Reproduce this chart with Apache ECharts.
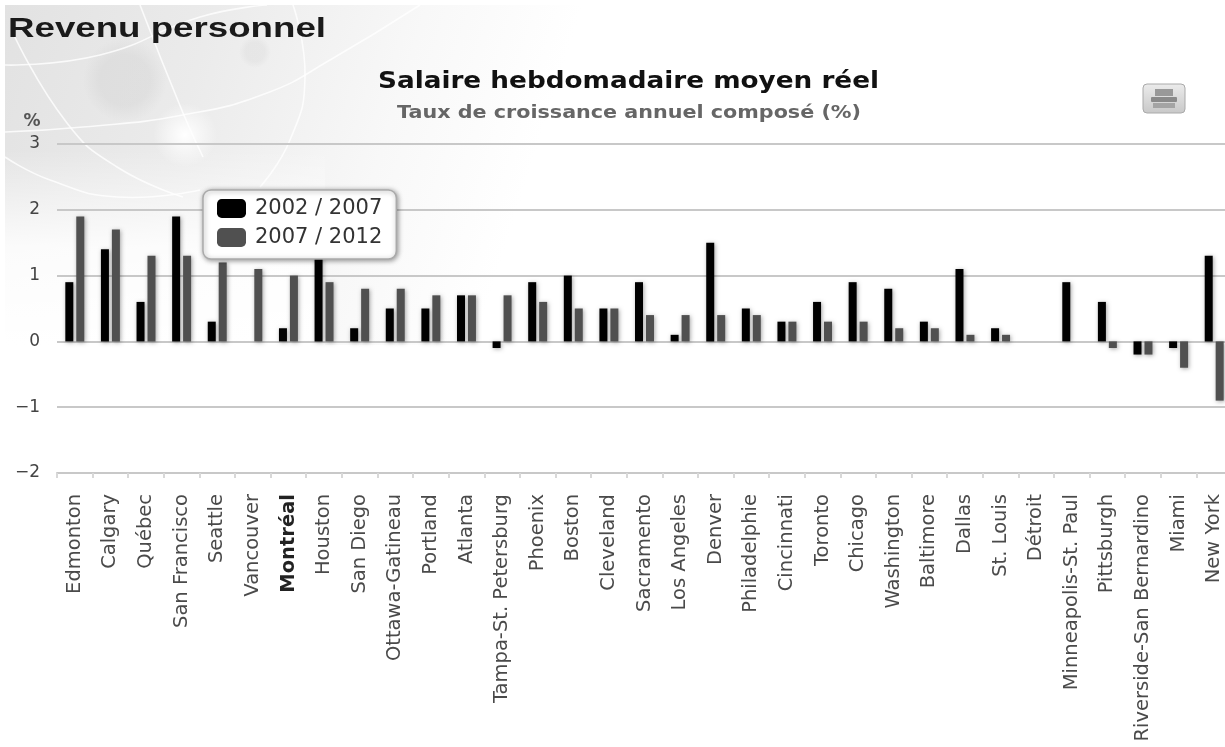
<!DOCTYPE html>
<html><head><meta charset="utf-8">
<style>html,body{margin:0;padding:0;background:#fff}#c{width:1225px;height:747px}</style>
<script src="https://cdn.jsdelivr.net/npm/echarts@6/dist/echarts.min.js"></script>
</head><body><div id="c"></div>
<script>
const categories=["Edmonton","Calgary","Québec","San Francisco","Seattle","Vancouver","Montréal","Houston","San Diego","Ottawa-Gatineau","Portland","Atlanta","Tampa-St. Petersburg","Phoenix","Boston","Cleveland","Sacramento","Los Angeles","Denver","Philadelphie","Cincinnati","Toronto","Chicago","Washington","Baltimore","Dallas","St. Louis","Détroit","Minneapolis-St. Paul","Pittsburgh","Riverside-San Bernardino","Miami","New York"];
const period1=[0.9,1.4,0.6,1.9,0.3,null,0.2,1.3,0.2,0.5,0.5,0.7,-0.1,0.9,1.0,0.5,0.9,0.1,1.5,0.5,0.3,0.6,0.9,0.8,0.3,1.1,0.2,null,0.9,0.6,-0.2,-0.1,1.3];
const period2=[1.9,1.7,1.3,1.3,1.2,1.1,1.0,0.9,0.8,0.8,0.7,0.7,0.7,0.6,0.5,0.5,0.4,0.4,0.4,0.4,0.3,0.3,0.3,0.2,0.2,0.1,0.1,null,0,-0.1,-0.2,-0.4,-0.9];
const seriesNames=["2002 / 2007","2007 / 2012"];
const highlighted="Montréal";
const FONT='"DejaVu Sans"';
const chart=echarts.init(document.getElementById('c'),null,{renderer:'canvas'});
const line=(points)=>({type:'polyline',silent:true,z:-9,shape:{points,smooth:0.5},style:{stroke:'rgba(255,255,255,0.8)',lineWidth:1.6,fill:null}});
const label=(text,x,y,scaleX,font,fill)=>({type:'text',silent:true,x,y,scaleX,style:{text,font,fill,textAlign:'left',textVerticalAlign:'middle'}});
const blob=(cx,cy,rx,ry,alpha)=>({type:'ellipse',silent:true,z:-9,shape:{cx,cy,rx,ry},style:{fill:new echarts.graphic.RadialGradient(0.5,0.5,0.5,[{offset:0,color:'rgba(190,190,190,'+alpha+')'},{offset:0.6,color:'rgba(190,190,190,'+alpha+')'},{offset:1,color:'rgba(190,190,190,0)'}])}});
const bar=(name,data,color)=>({name,type:'bar',data,barWidth:8,barGap:'37%',
  itemStyle:{color,shadowColor:'rgba(0,0,0,0.35)',shadowBlur:4,shadowOffsetX:1,shadowOffsetY:1}});
chart.setOption({
  animation:false,
  backgroundColor:'#fff',
  legend:{orient:'vertical',left:203,top:190,data:seriesNames,selectedMode:false,
    backgroundColor:'#fff',borderColor:'#aaa',borderWidth:1.5,borderRadius:8,
    shadowColor:'rgba(0,0,0,0.4)',shadowBlur:5,shadowOffsetX:1,shadowOffsetY:1,
    padding:[8,14,11,14],itemGap:8,itemWidth:29,itemHeight:19,
    textStyle:{fontFamily:FONT,fontSize:21,color:'#333',padding:[0,0,0,4]}},
  grid:{left:57,width:1175,top:144,height:329,outerBoundsMode:'none'},
  xAxis:{type:'category',
    data:categories.map(c=>c===highlighted?{value:c,textStyle:{fontWeight:'bold',color:'#222'}}:c),
    axisLine:{show:true,onZero:false,lineStyle:{color:'#c8c8c8',width:2}},
    axisTick:{show:true,length:5,lineStyle:{color:'#d8d8d8',width:2}},
    axisLabel:{rotate:90,interval:0,margin:21,fontFamily:FONT,fontSize:19.5,color:'#4a4a4a'}},
  yAxis:{type:'value',min:-2,max:3,interval:1,name:'%',nameLocation:'end',nameGap:14,
    nameTextStyle:{fontFamily:FONT,fontSize:17,fontWeight:'bold',color:'#555',align:'center',padding:[0,50,0,0]},
    axisLine:{show:false},axisTick:{show:false},
    axisLabel:{margin:17,fontFamily:FONT,fontSize:17,color:'#444',verticalAlign:'middle',padding:[0,0,12,0],
      formatter:v=>String(v).replace('-','−')},
    splitLine:{lineStyle:{color:'#c8c8c8',width:2}}},
  series:[bar(seriesNames[0],period1,'#000'),bar(seriesNames[1],period2,'#505050')],
  graphic:[
    {type:'rect',silent:true,z:-10,shape:{x:5,y:5,width:640,height:340},
      style:{fill:new echarts.graphic.LinearGradient(0,0,1,0.6,[
        {offset:0,color:'#e2e2e2'},{offset:0.3,color:'#ebebeb'},{offset:0.6,color:'#f8f8f8'},{offset:0.82,color:'#ffffff'}])}},
    {type:'rect',silent:true,z:-10,shape:{x:5,y:150,width:320,height:195},
      style:{fill:new echarts.graphic.LinearGradient(0,0,0,1,[
        {offset:0,color:'rgba(255,255,255,0)'},{offset:0.5,color:'rgba(255,255,255,0.85)'},{offset:1,color:'#fff'}])}},
    blob(125,80,62,42,0.22),
    blob(255,52,36,16,0.16),
    {type:'circle',silent:true,z:-9,shape:{cx:185,cy:135,r:32},
      style:{fill:new echarts.graphic.RadialGradient(0.5,0.5,0.5,[{offset:0,color:'rgba(255,255,255,1)'},{offset:1,color:'rgba(255,255,255,0)'}])}},
    line([[5,65],[100,55],[200,17],[267,5]]),
    line([[13,33],[67,123],[117,167],[183,197]]),
    line([[140,5],[183,113],[203,157]]),
    line([[5,132],[83,127],[183,115],[267,93],[330,60],[420,5]]),
    line([[293,5],[305,77],[290,140],[260,187]]),
    line([[5,157],[50,180],[117,197],[200,190]]),
    label('Revenu personnel',8,29,1.31,'bold 28px "Liberation Sans"','#1a1a1a'),
    label('Salaire hebdomadaire moyen réel',378,82,1.168,'bold 22.5px '+FONT,'#111'),
    label('Taux de croissance annuel composé (%)',397,114,1.217,'bold 17px '+FONT,'#666'),
    {type:'group',silent:true,children:[
      {type:'rect',shape:{x:1143,y:84,width:42,height:29,r:4},
        style:{fill:new echarts.graphic.LinearGradient(0,0,0,1,[{offset:0,color:'#ececec'},{offset:1,color:'#c8c8c8'}]),stroke:'#aaa',lineWidth:1}},
      {type:'rect',shape:{x:1155,y:89,width:18,height:7},style:{fill:'#999'}},
      {type:'rect',shape:{x:1151,y:97,width:26,height:5,r:1},style:{fill:'#8a8a8a'}},
      {type:'rect',shape:{x:1153,y:103,width:22,height:5},style:{fill:'#a4a4a4'}}
    ]}
  ]
});
</script></body></html>
